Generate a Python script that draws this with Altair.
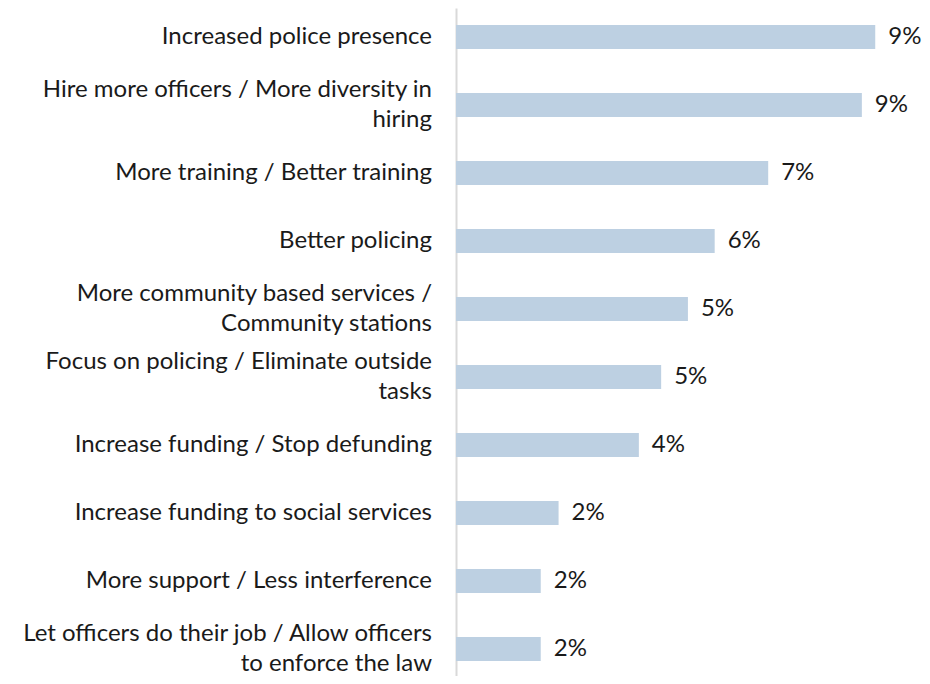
import altair as alt
import pandas as pd

categories = [
    "Increased police presence",
    "Hire more officers / More diversity in\nhiring",
    "More training / Better training",
    "Better policing",
    "More community based services /\nCommunity stations",
    "Focus on policing / Eliminate outside\ntasks",
    "Increase funding / Stop defunding",
    "Increase funding to social services",
    "More support / Less interference",
    "Let officers do their job / Allow officers\nto enforce the law",
]
values = [9.4, 9.1, 7.0, 5.8, 5.2, 4.6, 4.1, 2.3, 1.9, 1.9]
value_labels = ["9%", "9%", "7%", "6%", "5%", "5%", "4%", "2%", "2%", "2%"]

df = pd.DataFrame({"cat": categories, "val": values, "lab": value_labels})
df["two"] = df["cat"].str.contains("\n")

FONT = "Lato"
FS = 24
LH = 30
TXT = "#1a1a1a"

y = alt.Y("cat:N", sort=categories,
          scale=alt.Scale(paddingInner=0.65, paddingOuter=0.2368, align=0.531),
          axis=alt.Axis(title=None, labels=False, ticks=False, domain=True,
                        domainColor="#D9D9D9", domainWidth=2, grid=False))
x = alt.X("val:Q", scale=alt.Scale(domain=[0, 10]), axis=None)

base = alt.Chart(df)
bars = base.mark_bar(color="#BDD0E2").encode(x=x, y=y)
vals = base.mark_text(align="left", baseline="middle", dx=13, font=FONT,
                      fontSize=FS, color=TXT).encode(x=x, y=y, text="lab:N")
cats1 = base.transform_filter("!datum.two").mark_text(
    align="right", baseline="middle", font=FONT, fontSize=FS, color=TXT,
    lineBreak="\n", lineHeight=LH).encode(x=alt.value(-24), y=y, text="cat:N")
cats2 = base.transform_filter("datum.two").mark_text(
    align="right", baseline="middle", font=FONT, fontSize=FS, color=TXT,
    lineBreak="\n", lineHeight=LH, dy=-LH / 2).encode(x=alt.value(-24), y=y, text="cat:N")

chart = alt.layer(bars, vals, cats1, cats2).properties(
    width=446, height=668,
    autosize=alt.AutoSizeParams(type="none"),
    padding={"left": 448, "top": 0, "right": 20, "bottom": 0},
).configure_view(stroke=None)

chart.save("out.html", embed_options={"renderer": "svg", "actions": False})
